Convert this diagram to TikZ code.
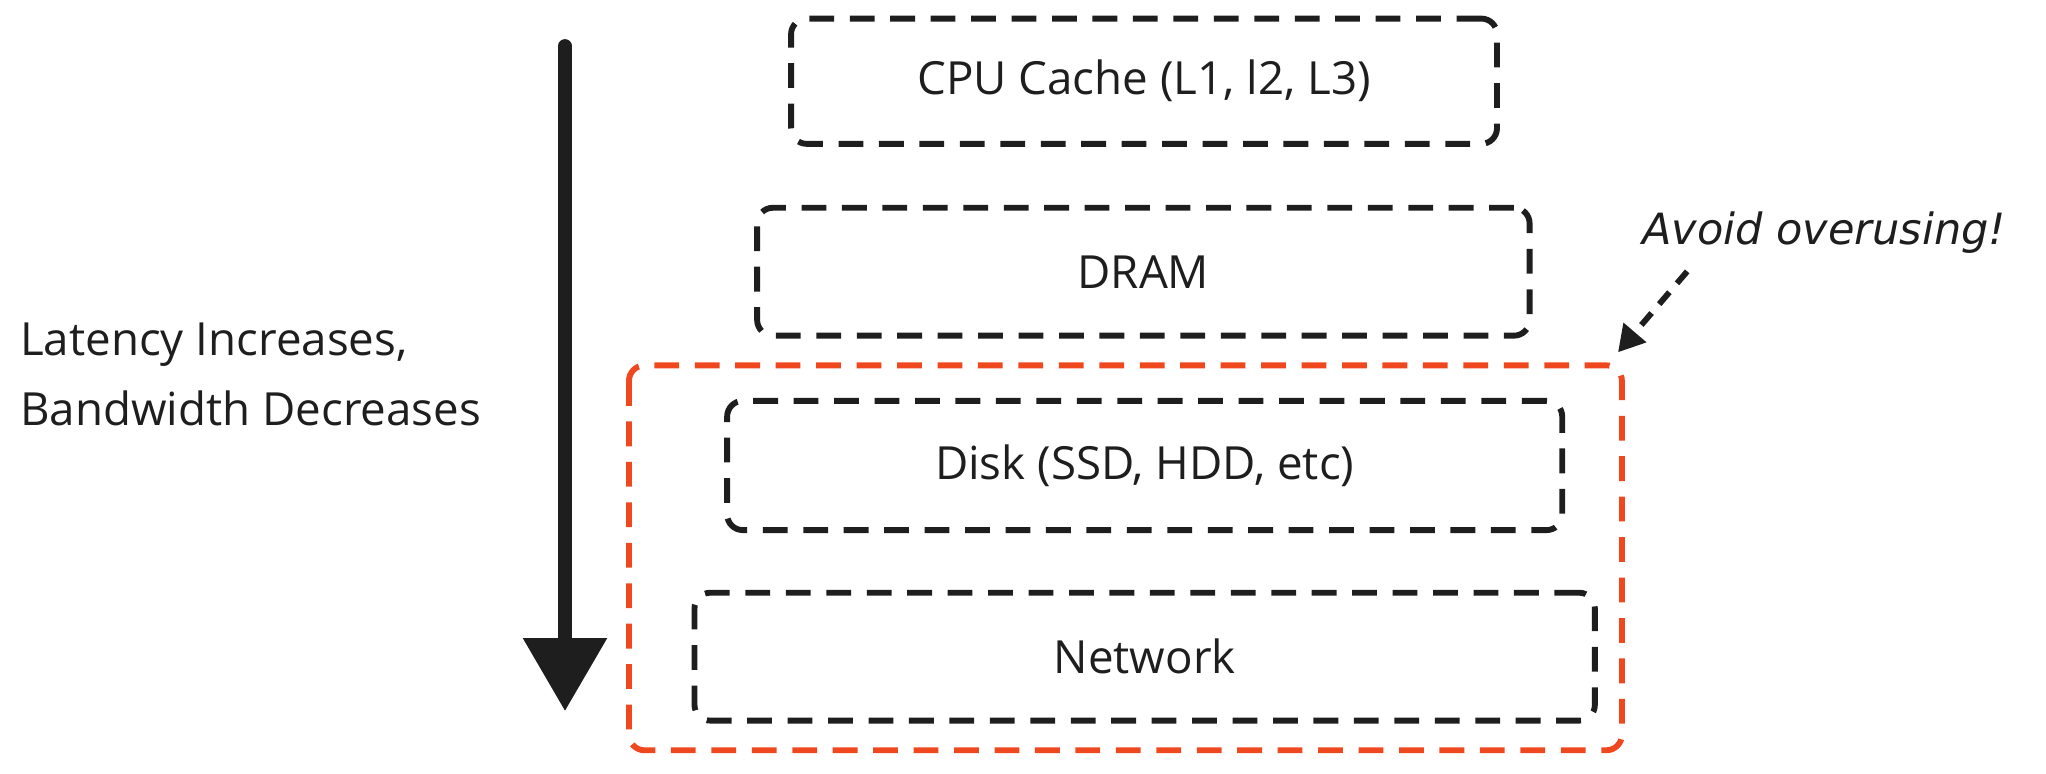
\documentclass[tikz,border=0pt]{standalone}
\usepackage{fontspec}
\setmainfont{Open Sans}
\newfontfamily\hand{DejaVu Sans}
\usetikzlibrary{arrows.meta}
\definecolor{ink}{HTML}{1E1E1E}
\definecolor{redl}{HTML}{F0481E}
\begin{document}
\begin{tikzpicture}[x=1pt,y=-1pt,
  box/.style={draw=ink,line width=4.5pt,dash pattern=on 19pt off 12pt,rounded corners=12pt},
  lbl/.style={font=\fontsize{35}{53}\selectfont,text=ink}]
\useasboundingbox (0,0) rectangle (1568,593);
\draw[box,draw=redl] (482,280) rectangle (1243,575);
\node[box,minimum width=541pt,minimum height=96pt,anchor=north west] (cpu) at (604,12) {};
\node[lbl] at (cpu.center) {CPU Cache (L1, l2, L3)};
\node[box,minimum width=592pt,minimum height=98pt,anchor=north west] (dram) at (578,157) {};
\node[lbl] at (dram.center) {DRAM};
\node[box,minimum width=640pt,minimum height=99pt,anchor=north west] (disk) at (555,305) {};
\node[lbl] at (disk.center) {Disk (SSD, HDD, etc)};
\node[box,minimum width=690pt,minimum height=98pt,anchor=north west] (net) at (530,452) {};
\node[lbl] at (net.center) {Network};
\coordinate (a0) at (433,35);
\coordinate (a1) at (433,545);
\draw[ink,line width=10pt,line cap=round,-{Triangle[length=56pt,width=62pt]}] (a0) -- (a1);
\node[lbl,anchor=west,align=left] (lat) at (12,287) {Latency Increases,\\Bandwidth Decreases};
\node[font=\hand\itshape\fontsize{33}{38}\selectfont,text=ink] (avoid) at (1398,178) {Avoid overusing!};
\coordinate (d0) at (1293,208);
\coordinate (d1) at (1240,270);
\draw[ink,line width=4.5pt,dash pattern=on 12pt off 9pt,-{Triangle[length=20pt,width=22pt]}] (d0) -- (d1);
\end{tikzpicture}
\end{document}
